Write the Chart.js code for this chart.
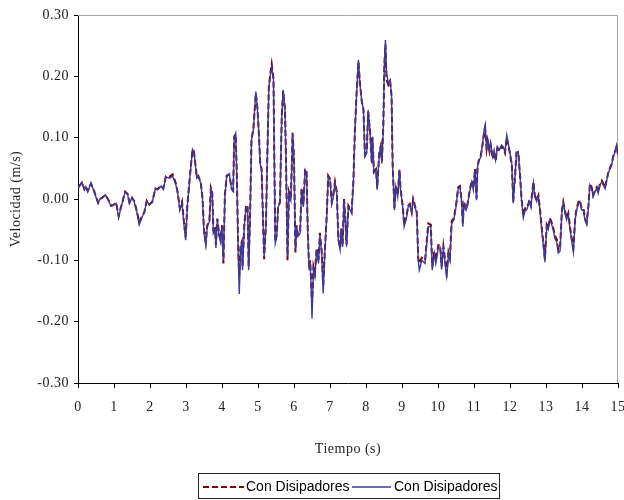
<!DOCTYPE html>
<html>
<head>
<meta charset="utf-8">
<title>Velocidad</title>
<script src="https://cdn.jsdelivr.net/npm/chart.js@4.4.1/dist/chart.umd.min.js"></script>
<style>
  body { margin: 0; background: #fff; }
  #wrap { width: 624px; height: 500px; }
</style>
</head>
<body>
<div id="wrap"><canvas id="vel" width="624" height="500"></canvas></div>
<script>
// time (s) and velocity (m/s)
const tiempo = [
  0.00, 0.11, 0.18, 0.22, 0.27, 0.36, 0.43, 0.50, 0.56, 0.61, 0.69, 0.76, 0.84, 0.92, 0.98,
  1.06, 1.13, 1.19, 1.31, 1.38, 1.43, 1.50, 1.56, 1.64, 1.70, 1.78, 1.84, 1.91, 1.98,
  2.06, 2.15, 2.21, 2.31, 2.37, 2.44, 2.54, 2.63, 2.72, 2.77, 2.83, 2.89, 2.94, 2.99,
  3.04, 3.11, 3.18, 3.22, 3.30, 3.34, 3.41, 3.46, 3.50, 3.55, 3.59, 3.65, 3.69, 3.73, 3.76, 3.81, 3.83, 3.87, 3.92, 3.96,
  4.00, 4.04, 4.08, 4.13, 4.20, 4.27, 4.31, 4.34, 4.38, 4.41, 4.45, 4.48, 4.52, 4.55, 4.57, 4.62, 4.67, 4.71, 4.74, 4.78, 4.82, 4.87, 4.94, 4.98,
  5.02, 5.06, 5.10, 5.17, 5.22, 5.26, 5.30, 5.35, 5.38, 5.43, 5.45, 5.48, 5.52, 5.56, 5.61, 5.66, 5.70, 5.75, 5.78, 5.82, 5.86, 5.91, 5.94, 5.96,
  6.00, 6.04, 6.07, 6.11, 6.17, 6.21, 6.26, 6.31, 6.35, 6.38, 6.42, 6.45, 6.48, 6.50, 6.54, 6.58, 6.63, 6.68, 6.72, 6.77, 6.81, 6.86, 6.91, 6.95,
  7.00, 7.05, 7.09, 7.14, 7.19, 7.23, 7.28, 7.31, 7.35, 7.39, 7.43, 7.46, 7.51, 7.56, 7.60, 7.65, 7.69, 7.74, 7.79, 7.83, 7.88, 7.93, 7.97,
  8.02, 8.06, 8.11, 8.16, 8.18, 8.22, 8.28, 8.31, 8.37, 8.41, 8.44, 8.48, 8.51, 8.54, 8.57, 8.62, 8.67, 8.71, 8.74, 8.79, 8.83, 8.88, 8.93, 8.96,
  9.02, 9.06, 9.13, 9.17, 9.22, 9.27, 9.31, 9.36, 9.41, 9.45, 9.48, 9.55, 9.64, 9.73, 9.80, 9.84, 9.90, 9.94,
  10.01, 10.06, 10.10, 10.15, 10.19, 10.24, 10.29, 10.33, 10.38, 10.44, 10.50, 10.56, 10.61, 10.66, 10.69, 10.72, 10.78, 10.81, 10.89, 10.94, 10.98,
  11.03, 11.07, 11.10, 11.15, 11.19, 11.24, 11.28, 11.31, 11.35, 11.38, 11.43, 11.46, 11.52, 11.56, 11.60, 11.65, 11.70, 11.77, 11.81, 11.86, 11.91, 11.95,
  12.00, 12.05, 12.09, 12.14, 12.18, 12.23, 12.28, 12.32, 12.37, 12.42, 12.46, 12.51, 12.54, 12.58, 12.65, 12.69, 12.74, 12.79, 12.83, 12.88, 12.92, 12.97,
  13.02, 13.06, 13.11, 13.16, 13.20, 13.25, 13.30, 13.34, 13.39, 13.44, 13.48, 13.53, 13.57, 13.62, 13.67, 13.71, 13.76, 13.81, 13.85, 13.90, 13.94, 13.99,
  14.04, 14.08, 14.13, 14.18, 14.22, 14.27, 14.31, 14.36, 14.41, 14.45, 14.50, 14.55, 14.59, 14.64, 14.69, 14.73, 14.78, 14.82, 14.87, 14.92, 14.96, 15.00
];

// second series (blue, solid)
const velAzul = [
  0.018, 0.028, 0.015, 0.020, 0.012, 0.026, 0.015, 0.003, -0.007, 0.000, 0.002, 0.007, -0.002, -0.012, -0.010,
  -0.007, -0.030, -0.015, 0.012, 0.007, -0.007, 0.002, -0.004, -0.023, -0.042, -0.029, -0.023, -0.003, -0.010,
  -0.006, 0.017, 0.015, 0.021, 0.016, 0.036, 0.034, 0.037, 0.023, 0.009, -0.018, -0.006, -0.040, -0.067,
  -0.010, 0.036, 0.081, 0.077, 0.034, 0.037, 0.026, -0.002, -0.056, -0.075, -0.045, -0.037, 0.015, 0.009, -0.056, -0.050, -0.080, -0.034, -0.060, -0.070,
  -0.045, -0.100, 0.004, 0.036, 0.041, 0.015, 0.012, 0.100, 0.107, 0.042, -0.089, -0.155, -0.078, -0.072, -0.116, -0.045, -0.013, -0.013, -0.116, -0.029, 0.096, 0.112, 0.175, 0.150,
  0.110, 0.058, 0.047, -0.094, -0.045, 0.069, 0.180, 0.205, 0.216, 0.194, 0.080, -0.072, -0.061, -0.013, -0.007, 0.134, 0.178, 0.145, 0.053, -0.094, 0.009, -0.002, 0.053, 0.107,
  0.064, -0.083, -0.045, -0.061, -0.056, 0.015, -0.013, 0.047, 0.042, -0.050, -0.116, -0.105, -0.148, -0.195, -0.116, -0.127, -0.083, -0.105, -0.059, -0.089, -0.154, -0.083, -0.029, 0.036,
  0.031, -0.007, 0.004, 0.026, 0.009, -0.067, -0.083, -0.050, -0.078, -0.002, -0.040, -0.078, -0.013, -0.018, -0.023, 0.026, 0.107, 0.172, 0.227, 0.189, 0.161, 0.145, 0.069,
  0.075, 0.145, 0.112, 0.058, 0.102, 0.042, 0.047, 0.015, 0.075, 0.085, 0.058, 0.112, 0.221, 0.259, 0.205, 0.189, 0.194, 0.167, 0.053, -0.018, 0.020, 0.004, 0.047, 0.015,
  -0.013, -0.045, -0.029, -0.013, -0.010, -0.023, -0.002, -0.013, -0.023, -0.100, -0.116, -0.100, -0.105, -0.045, -0.045, -0.116, -0.089, -0.105,
  -0.078, -0.078, -0.115, -0.080, -0.100, -0.129, -0.090, -0.100, -0.040, -0.034, -0.013, 0.017, 0.019, -0.007, -0.045, -0.007, -0.018, -0.013, 0.015, 0.028, 0.015,
  0.047, -0.002, 0.053, 0.064, 0.069, 0.091, 0.112, 0.121, 0.080, 0.096, 0.080, 0.091, 0.069, 0.080, 0.064, 0.085, 0.080, 0.088, 0.085, 0.077, 0.104, 0.091,
  0.075, 0.058, -0.007, 0.036, 0.075, 0.077, 0.036, -0.002, -0.031, -0.018, -0.018, -0.010, -0.004, -0.013, 0.026, 0.004, -0.004, 0.004, -0.018, -0.050, -0.072, -0.103,
  -0.045, -0.050, -0.034, -0.042, -0.050, -0.065, -0.070, -0.088, -0.085, -0.023, -0.007, -0.023, -0.034, -0.026, -0.050, -0.067, -0.086, -0.034, -0.018, -0.007, -0.004, -0.018,
  -0.018, -0.034, -0.042, -0.013, 0.023, 0.017, 0.004, 0.012, 0.017, 0.009, 0.023, 0.028, 0.023, 0.017, 0.031, 0.042, 0.050, 0.055, 0.069, 0.077, 0.088, 0.075
];

// first series (dark red, dashed)
const velRojo = [
  0.018, 0.027, 0.016, 0.020, 0.013, 0.025, 0.016, 0.004, -0.006, 0.000, 0.003, 0.007, -0.001, -0.011, -0.010,
  -0.006, -0.028, -0.014, 0.012, 0.008, -0.006, 0.002, -0.003, -0.021, -0.038, -0.028, -0.022, -0.003, -0.009,
  -0.005, 0.017, 0.016, 0.022, 0.017, 0.037, 0.036, 0.040, 0.025, 0.010, -0.015, -0.004, -0.036, -0.062,
  -0.008, 0.038, 0.080, 0.078, 0.036, 0.038, 0.027, 0.000, -0.050, -0.070, -0.043, -0.035, 0.018, 0.010, -0.050, -0.048, -0.075, -0.032, -0.057, -0.066,
  -0.043, -0.105, 0.006, 0.038, 0.040, 0.017, 0.014, 0.102, 0.106, 0.045, -0.080, -0.125, -0.075, -0.070, -0.110, -0.042, -0.010, -0.012, -0.110, -0.026, 0.098, 0.114, 0.172, 0.152,
  0.112, 0.060, 0.049, -0.098, -0.043, 0.072, 0.182, 0.208, 0.220, 0.196, 0.084, -0.070, -0.058, -0.011, -0.005, 0.136, 0.176, 0.146, 0.056, -0.100, 0.011, 0.000, 0.055, 0.108,
  0.066, -0.087, -0.043, -0.058, -0.053, 0.018, -0.010, 0.049, 0.044, -0.046, -0.112, -0.100, -0.140, -0.170, -0.110, -0.120, -0.080, -0.100, -0.055, -0.085, -0.140, -0.080, -0.026, 0.038,
  0.033, -0.005, 0.006, 0.028, 0.011, -0.064, -0.080, -0.048, -0.075, 0.000, -0.037, -0.074, -0.011, -0.016, -0.021, 0.030, 0.110, 0.175, 0.224, 0.190, 0.160, 0.146, 0.072,
  0.077, 0.142, 0.113, 0.060, 0.100, 0.045, 0.049, 0.018, 0.076, 0.086, 0.061, 0.116, 0.218, 0.252, 0.195, 0.186, 0.192, 0.168, 0.056, -0.015, 0.022, 0.006, 0.048, 0.017,
  -0.011, -0.042, -0.027, -0.011, -0.008, -0.021, 0.000, -0.011, -0.021, -0.095, -0.105, -0.096, -0.100, -0.040, -0.042, -0.110, -0.085, -0.100,
  -0.075, -0.076, -0.110, -0.077, -0.096, -0.120, -0.087, -0.096, -0.036, -0.031, -0.011, 0.019, 0.021, -0.005, -0.040, -0.005, -0.016, -0.011, 0.017, 0.030, 0.017,
  0.049, 0.001, 0.055, 0.066, 0.071, 0.090, 0.108, 0.116, 0.082, 0.095, 0.078, 0.089, 0.066, 0.078, 0.062, 0.083, 0.078, 0.086, 0.083, 0.075, 0.100, 0.089,
  0.073, 0.056, -0.004, 0.038, 0.076, 0.076, 0.038, 0.001, -0.027, -0.015, -0.015, -0.008, -0.002, -0.010, 0.028, 0.006, -0.002, 0.006, -0.015, -0.046, -0.068, -0.098,
  -0.042, -0.047, -0.031, -0.039, -0.047, -0.060, -0.066, -0.083, -0.080, -0.020, -0.005, -0.020, -0.031, -0.023, -0.047, -0.063, -0.080, -0.031, -0.016, -0.005, -0.002, -0.015,
  -0.015, -0.031, -0.038, -0.010, 0.025, 0.019, 0.006, 0.014, 0.019, 0.011, 0.025, 0.030, 0.025, 0.019, 0.033, 0.043, 0.051, 0.056, 0.070, 0.078, 0.085, 0.073
];

const serieNombres = ["Con Disipadores", "Con Disipadores"];

const rojo = "#800000";
const azul = "#3a3a9e";

// grey frame top/right + custom legend box at the bottom
const marcoYLeyenda = {
  id: "marcoYLeyenda",
  beforeDraw(chart) {
    chart.ctx.letterSpacing = "0.5px";
  },
  beforeDatasetsDraw(chart) {
    const { ctx, chartArea: a } = chart;
    ctx.save();
    ctx.strokeStyle = "#a6a6a6";
    ctx.lineWidth = 1;
    ctx.beginPath();
    ctx.moveTo(a.left, a.top + 0.5);
    ctx.lineTo(a.right - 0.5, a.top + 0.5);
    ctx.lineTo(a.right - 0.5, a.bottom);
    ctx.stroke();
    ctx.restore();
  },
  afterDraw(chart) {
    const ctx = chart.ctx;
    ctx.save();
    ctx.letterSpacing = "0px";
    ctx.strokeStyle = "#222";
    ctx.lineWidth = 1;
    ctx.strokeRect(198.5, 473.5, 301, 25);

    const yl = 487;
    ctx.lineWidth = 2;
    ctx.strokeStyle = rojo;
    ctx.setLineDash([6, 3]);
    ctx.beginPath();
    ctx.moveTo(203, yl);
    ctx.lineTo(244, yl);
    ctx.stroke();

    ctx.setLineDash([]);
    ctx.lineWidth = 1.5;
    ctx.strokeStyle = azul;
    ctx.beginPath();
    ctx.moveTo(352, yl);
    ctx.lineTo(391, yl);
    ctx.stroke();

    ctx.fillStyle = "#000";
    ctx.font = "14px 'Liberation Sans', Arial, sans-serif";
    ctx.textBaseline = "middle";
    ctx.fillText(serieNombres[0], 246, yl);
    ctx.fillText(serieNombres[1], 394, yl);
    ctx.restore();
  }
};

const serifFont = { family: "'Liberation Serif', 'Times New Roman', serif", size: 14 };

new Chart(document.getElementById("vel").getContext("2d"), {
  type: "line",
  data: {
    datasets: [
      {
        label: serieNombres[1],
        data: tiempo.map((t, i) => ({ x: t, y: velAzul[i] })),
        borderColor: azul,
        borderWidth: 1.4,
        pointRadius: 0,
        tension: 0,
        order: 0
      },
      {
        label: serieNombres[0],
        data: tiempo.map((t, i) => ({ x: t, y: velRojo[i] })),
        borderColor: rojo,
        borderWidth: 2,
        borderDash: [6, 3],
        pointRadius: 0,
        tension: 0,
        order: 1
      }
    ]
  },
  options: {
    responsive: false,
    animation: false,
    devicePixelRatio: 1,
    layout: { padding: { left: 0, top: 15, right: 6, bottom: 38 } },
    plugins: {
      legend: { display: false },
      tooltip: { enabled: false }
    },
    scales: {
      x: {
        type: "linear",
        min: 0,
        max: 15,
        ticks: { stepSize: 1, maxRotation: 0, padding: 11, color: "#222", font: serifFont },
        grid: { drawOnChartArea: false, tickLength: 5, color: "#000" },
        border: { color: "#000", width: 1 },
        title: { display: true, text: "Tiempo (s)", color: "#222", font: serifFont, padding: { top: 4, bottom: 4 } },
        afterFit(scale) {
          scale.height = 79;
          scale.paddingLeft = 0;
          scale.paddingRight = 0;
        }
      },
      y: {
        min: -0.3,
        max: 0.3,
        ticks: {
          stepSize: 0.1,
          padding: 5,
          color: "#222",
          font: serifFont,
          callback: (v) => v.toFixed(2)
        },
        grid: { drawOnChartArea: false, tickLength: 4, color: "#000" },
        border: { color: "#000", width: 1 },
        title: { display: true, text: "Velocidad (m/s)", color: "#222", font: serifFont, padding: { top: 8, bottom: 0 } },
        afterFit(scale) { scale.width = 78; }
      }
    }
  },
  plugins: [marcoYLeyenda]
});
</script>
</body>
</html>
